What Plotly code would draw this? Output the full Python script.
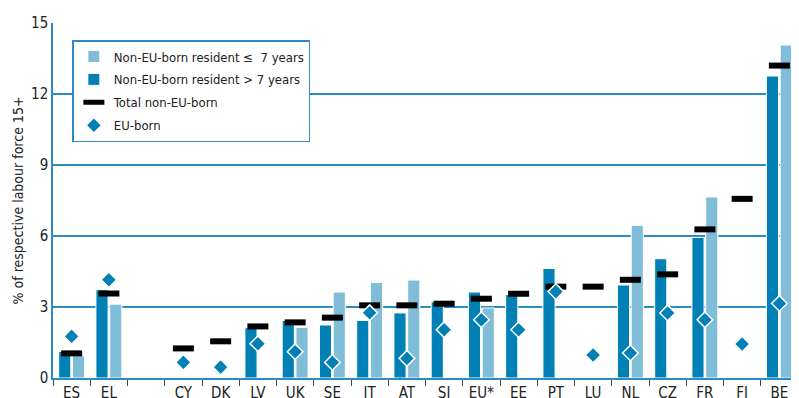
import plotly.graph_objects as go

countries = ["ES", "EL", " ", "CY", "DK", "LV", "UK", "SE", "IT", "AT", "SI",
             "EU*", "EE", "PT", "LU", "NL", "CZ", "FR", "FI", "BE"]
resident_long = [1.12, 3.73, None, None, None, 2.12, 2.43, 2.24, 2.43, 2.75, 3.22,
                 3.63, 3.53, 4.63, None, 3.93, 5.04, 5.94, None, 12.76]
resident_short = [0.94, 3.12, None, None, None, None, 2.14, 3.63, 4.04, 4.14, None,
                  2.96, None, None, None, 6.45, None, 7.65, None, 14.07]
total_non_eu = [1.04, 3.57, None, 1.25, 1.55, 2.18, 2.35, 2.55, 3.07, 3.07, 3.14,
                3.35, 3.56, 3.86, 3.86, 4.15, 4.38, 6.28, 7.57, 13.2]
eu_born = [1.76, 4.15, None, 0.66, 0.46, 1.45, 1.11, 0.66, 2.76, 0.83, 2.04,
           2.46, 2.04, 3.65, 0.97, 1.06, 2.75, 2.46, 1.44, 3.15]

DARK = "#0080b4"
LIGHT = "#80bdd8"
GRID = "#2b8cc4"
FONT = "DejaVu Sans Condensed, Liberation Sans Narrow, sans-serif"

fig = go.Figure()
fig.add_trace(go.Bar(x=countries, y=resident_long, name="Non-EU-born resident > 7 years",
                     marker=dict(color=DARK, line=dict(color="white", width=1)),
                     legendrank=2, legendgroup="b"))
fig.add_trace(go.Bar(x=countries, y=resident_short, name="Non-EU-born resident \u2264  7 years",
                     marker=dict(color=LIGHT, line=dict(color="white", width=1)),
                     legendrank=1, legendgroup="a"))
fig.add_trace(go.Scatter(x=countries, y=total_non_eu, mode="markers", name="Total non-EU-born",
                         marker=dict(symbol="line-ew", size=15,
                                     line=dict(color="black", width=6)),
                         legendrank=3, legendgroup="c"))
fig.add_trace(go.Scatter(x=countries, y=eu_born, mode="markers", name="EU-born",
                         marker=dict(symbol="diamond", size=12, color=DARK,
                                     line=dict(color="white", width=1.5)),
                         legendrank=4, legendgroup="d"))

# the page body adds an 8px offset, so margins are shifted to keep the plot in place
fig.update_layout(
    width=799, height=398,
    margin=dict(l=45, r=9, t=15, b=28),
    paper_bgcolor="white", plot_bgcolor="white",
    barmode="group", bargap=0.26, bargroupgap=0.12,
    font=dict(family=FONT, size=13, color="#222"),
    showlegend=True,
    legend=dict(x=0.026, y=0.952, xanchor="left", yanchor="top",
                bordercolor=GRID, borderwidth=1.5, bgcolor="white",
                font=dict(size=13), itemsizing="trace",
                tracegroupgap=3),
    xaxis=dict(type="category", range=[-0.5, 19.5], showgrid=False,
               showline=True, linecolor=GRID, linewidth=1.5,
               ticks="outside", tickson="boundaries", ticklen=6, tickcolor="#444",
               tickwidth=1, tickangle=0, tickfont=dict(size=15), automargin=False),
    yaxis=dict(range=[0, 15], tickvals=[0, 3, 6, 9, 12, 15], showgrid=True,
               gridcolor=GRID, gridwidth=1.5, zeroline=False,
               showline=True, linecolor=GRID, linewidth=1.5, mirror=True,
               ticks="", tickfont=dict(size=15), automargin=False,
               title=dict(text="% of respective labour force 15+", font=dict(size=14),
                          standoff=4)),
)

fig.write_html("out.html")
